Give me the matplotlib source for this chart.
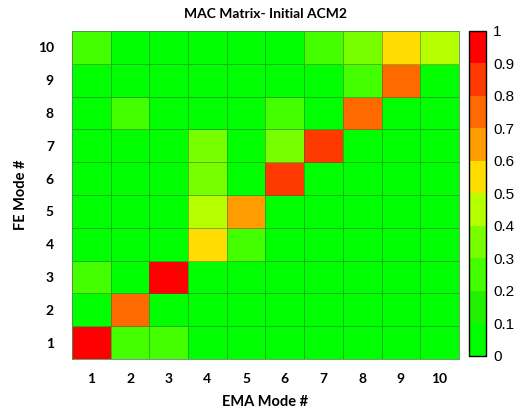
import numpy as np
import matplotlib
matplotlib.use('Agg')
import matplotlib.pyplot as plt
from matplotlib.colors import ListedColormap, BoundaryNorm

# mode numbers
ema_modes = [1, 2, 3, 4, 5, 6, 7, 8, 9, 10]
fe_modes = [1, 2, 3, 4, 5, 6, 7, 8, 9, 10]

# MAC values, rows = FE mode 1..10, cols = EMA mode 1..10
mac = np.array([
    [0.95, 0.25, 0.22, 0.02, 0.02, 0.02, 0.02, 0.02, 0.02, 0.02],
    [0.02, 0.75, 0.02, 0.02, 0.02, 0.02, 0.02, 0.02, 0.02, 0.02],
    [0.25, 0.02, 0.95, 0.02, 0.02, 0.02, 0.02, 0.02, 0.02, 0.02],
    [0.02, 0.02, 0.02, 0.55, 0.25, 0.02, 0.02, 0.02, 0.02, 0.02],
    [0.02, 0.02, 0.02, 0.45, 0.65, 0.02, 0.02, 0.02, 0.02, 0.02],
    [0.02, 0.02, 0.02, 0.35, 0.02, 0.85, 0.02, 0.02, 0.02, 0.02],
    [0.02, 0.02, 0.02, 0.35, 0.02, 0.35, 0.85, 0.02, 0.02, 0.02],
    [0.02, 0.25, 0.02, 0.02, 0.02, 0.25, 0.02, 0.75, 0.02, 0.02],
    [0.02, 0.02, 0.02, 0.02, 0.02, 0.02, 0.02, 0.25, 0.75, 0.02],
    [0.25, 0.02, 0.02, 0.02, 0.02, 0.02, 0.25, 0.35, 0.55, 0.45],
])

level_colors = ['#00ff00', '#22f200', '#44ff00', '#77ff00', '#b5ff00',
                '#ffdd00', '#ff9c00', '#ff6a00', '#ff3a00', '#ff0000']
levels = np.linspace(0, 1, 11)
cmap = ListedColormap(level_colors)
norm = BoundaryNorm(levels, cmap.N)

bold_font = ['Lato', 'DejaVu Sans']

fig = plt.figure(figsize=(5.16, 4.12), dpi=100)
ax = fig.add_axes([0.1395, 0.1286, 0.75, 0.7962])
cax = fig.add_axes([0.909, 0.136, 0.033, 0.789])

x_edges = np.arange(len(ema_modes) + 1) + 0.5
y_edges = np.arange(len(fe_modes) + 1) + 0.5
mesh = ax.pcolormesh(x_edges, y_edges, mac, cmap=cmap, norm=norm,
                     edgecolors=(0.2, 0.35, 0.2, 0.45), linewidth=0.6)

ax.set_xticks(ema_modes)
ax.set_yticks(fe_modes)
ax.set_xticklabels([str(m) for m in ema_modes], fontweight='bold',
                   fontsize=10, family=bold_font)
ax.set_yticklabels([str(m) for m in fe_modes], fontweight='bold',
                   fontsize=10, family=bold_font)
ax.tick_params(axis='x', length=0, pad=10)
ax.tick_params(axis='y', length=0, pad=13)
for s in ax.spines.values():
    s.set_color('#55905a')
    s.set_linewidth(0.6)

ax.set_xlabel('EMA Mode #', fontweight='bold', fontsize=10.5,
              family=bold_font, labelpad=7)
ax.set_ylabel('FE Mode #', fontweight='bold', fontsize=10.5,
              family=bold_font, labelpad=7)
ax.set_title('MAC Matrix- Initial ACM2', fontweight='bold', fontsize=10,
             family=bold_font, pad=9)

cb = fig.colorbar(mesh, cax=cax, ticks=levels)
cb.ax.set_yticklabels(['0', '0.1', '0.2', '0.3', '0.4', '0.5', '0.6',
                       '0.7', '0.8', '0.9', '1'],
                      fontsize=11, family=['Liberation Sans', 'DejaVu Sans'])
cb.ax.tick_params(length=0, pad=5)
cb.outline.set_linewidth(1.0)
cb.outline.set_edgecolor('black')

fig.savefig('out.png', dpi=100)
